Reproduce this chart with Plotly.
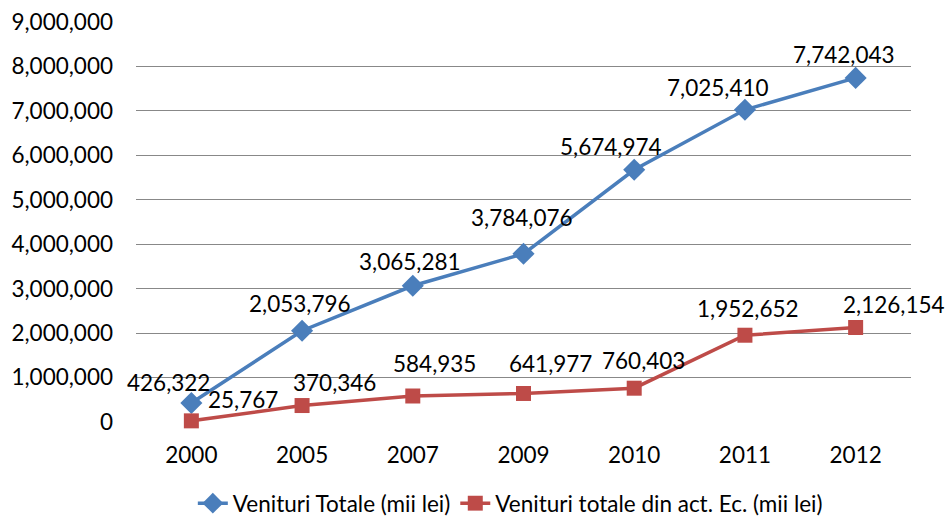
import plotly.graph_objects as go

years = ["2000", "2005", "2007", "2009", "2010", "2011", "2012"]
venituri_totale = [426322, 2053796, 3065281, 3784076, 5674974, 7025410, 7742043]
venituri_act_ec = [25767, 370346, 584935, 641977, 760403, 1952652, 2126154]

# label offsets (px) from each marker, as placed in the original chart
blue_dx = [-23, -2, -3, -2, -23, -27, -12]
blue_dy = [21, 27, 24, 36, 23, 22, 23]
red_dx = [52, 32, 22, 27, 9, 3, 38]
red_dy = [21, 23, 33, 30, 28, 27, 23]

BLUE = "#4A7EBB"
RED = "#BE4B48"
FONT = "Lato, Carlito, Calibri, sans-serif"
FSIZE = 22.5

fig = go.Figure()
fig.add_trace(
    go.Scatter(
        x=years,
        y=venituri_totale,
        name="Venituri Totale (mii lei)",
        mode="lines+markers",
        line={"color": BLUE, "width": 3.5},
        marker={"symbol": "diamond", "size": 17, "color": BLUE},
        cliponaxis=False,
    )
)
fig.add_trace(
    go.Scatter(
        x=years,
        y=venituri_act_ec,
        name="Venituri totale din act. Ec. (mii lei)",
        mode="lines+markers",
        line={"color": RED, "width": 3.5},
        marker={"symbol": "square", "size": 15, "color": RED},
        cliponaxis=False,
    )
)

# data labels: category axis, so x is the category index
for values, dxs, dys in ((venituri_totale, blue_dx, blue_dy), (venituri_act_ec, red_dx, red_dy)):
    for i, (v, dx, dy) in enumerate(zip(values, dxs, dys)):
        fig.add_annotation(
            x=i,
            y=v,
            text=f"{v:,}",
            showarrow=False,
            xshift=dx,
            yshift=dy,
            font={"size": FSIZE, "color": "#000000"},
        )

fig.update_layout(
    width=952,
    height=523,
    paper_bgcolor="white",
    plot_bgcolor="white",
    font={"family": FONT, "size": FSIZE, "color": "#000000"},
    margin={"l": 136, "r": 41, "t": 22, "b": 101, "autoexpand": False},
    showlegend=True,
    legend={
        "orientation": "h",
        "x": 0.483,
        "xanchor": "center",
        "y": -0.15,
        "yanchor": "top",
        "font": {"size": FSIZE},
        "traceorder": "normal",
    },
)
fig.update_xaxes(
    type="category",
    categoryorder="array",
    categoryarray=years,
    range=[-0.5, len(years) - 0.5],
    showgrid=False,
    showline=False,
    zeroline=False,
    ticks="",
    ticklabelstandoff=17,
    automargin=False,
)
fig.update_yaxes(
    range=[0, 9000000],
    tickvals=[i * 1000000 for i in range(10)],
    tickformat=",.0f",
    showgrid=True,
    gridcolor="#888888",
    gridwidth=1,
    zeroline=False,
    showline=False,
    ticks="",
    ticklabelstandoff=22,
    automargin=False,
)

# drop the default page margin so the figure sits at the window's corner
fig.write_html(
    "out.html",
    config={"displayModeBar": False},
    post_script="document.body.style.margin='0';",
)
